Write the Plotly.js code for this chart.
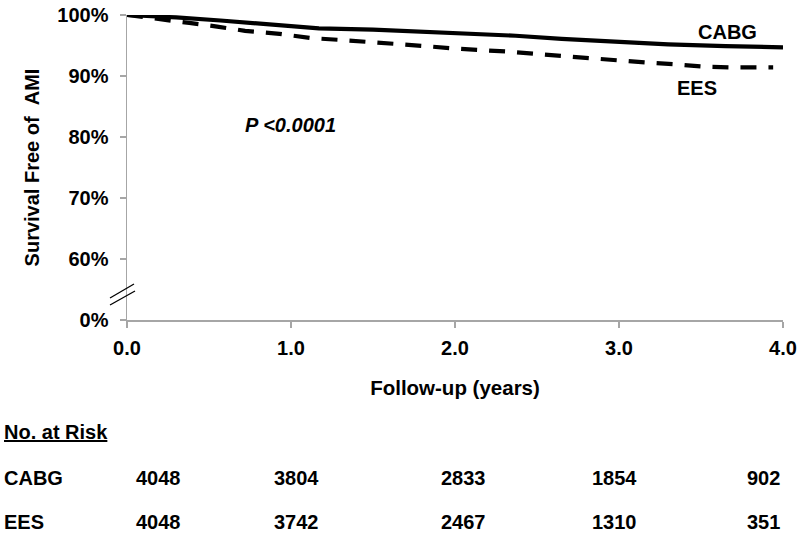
<!DOCTYPE html>
<html>
<head>
<meta charset="utf-8">
<script src="https://cdn.plot.ly/plotly-3.0.1.min.js"></script>
<style>html,body{margin:0;padding:0;background:#fff;}#chart{width:800px;height:534px;}</style>
</head>
<body>
<div id="chart"></div>
<script>
// Data
const cabgYears = [0, 0.15, 0.3, 0.57, 1.0, 1.17, 1.5, 1.78, 2.1, 2.37, 2.65, 2.96, 3.3, 3.65, 4.0];
const cabgSurv  = [100, 99.85, 99.6, 99.1, 98.1, 97.8, 97.6, 97.3, 96.9, 96.6, 96.1, 95.6, 95.2, 94.9, 94.7];
const eesYears = [0, 0.1, 0.22, 0.38, 0.55, 0.72, 0.93, 1.13, 1.31, 1.48, 1.65, 1.82, 2.0, 2.17, 2.32, 2.5, 2.68, 2.87, 3.0, 3.17, 3.35, 3.54, 3.7, 3.94];
const eesSurv  = [100, 99.7, 99.2, 98.7, 98.1, 97.4, 96.9, 96.2, 95.9, 95.6, 95.2, 94.9, 94.5, 94.3, 94.0, 93.6, 93.2, 92.8, 92.5, 92.2, 91.9, 91.5, 91.4, 91.4];

const xTickVals = [0, 1, 2, 3, 4];
const xTickText = ["0.0", "1.0", "2.0", "3.0", "4.0"];
const yTickVals = [50, 60, 70, 80, 90, 100];
const yTickText = ["0%", "60%", "70%", "80%", "90%", "100%"];

const riskGroups = ["CABG", "EES"];
const riskCABG = ["4048", "3804", "2833", "1854", "902"];
const riskEES  = ["4048", "3742", "2467", "1310", "351"];

// Layout geometry (pixels)
const W = 800, H = 534;
const M = {l: 127, r: 17, t: 15, b: 214};
const pw = W - M.l - M.r, ph = H - M.t - M.b;
const px2x = p => (p - M.l) / pw;
const py2y = p => (H - M.b - p) / ph;
const riskColPx = [158, 296, 463, 614, 763];

const FONT = "Liberation Sans, Arial, sans-serif";
const tableFont = {family: FONT, size: 20, color: "#000", weight: "bold"};

const traces = [
  {x: cabgYears, y: cabgSurv, mode: "lines", name: "CABG",
   line: {color: "#000", width: 4.2}, cliponaxis: false, hoverinfo: "skip"},
  {x: eesYears, y: eesSurv, mode: "lines", name: "EES",
   line: {color: "#000", width: 4.2, dash: "16px,12px"}, cliponaxis: false, hoverinfo: "skip"}
];

function txt(px, py, text, font, xanchor) {
  return {xref: "paper", yref: "paper", x: px2x(px), y: py2y(py), text: text, showarrow: false,
          xanchor: xanchor || "center", yanchor: "middle", font: font};
}

const ann = [];
const bigFont = {family: FONT, size: 20, color: "#000", weight: "bold"};
ann.push(txt(727, 32, "CABG", bigFont));
ann.push(txt(697, 88, "EES", bigFont));
ann.push(txt(290, 125, "<i>P &lt;0.0001</i>", bigFont));
ann.push(txt(2, 432, "<u>No. at Risk</u>", tableFont, "left"));
const rows = [riskCABG, riskEES];
const rowPy = [478, 522];
rows.forEach((vals, r) => {
  ann.push(txt(2, rowPy[r], riskGroups[r], tableFont, "left"));
  vals.forEach((v, i) => ann.push(txt(riskColPx[i], rowPy[r], v, tableFont)));
});

const shapes = [
  {type: "line", xref: "paper", yref: "paper", x0: px2x(110), x1: px2x(135), y0: py2y(305), y1: py2y(291), line: {color: "#000", width: 1.3}},
  {type: "line", xref: "paper", yref: "paper", x0: px2x(110), x1: px2x(134), y0: py2y(298), y1: py2y(284), line: {color: "#000", width: 1.3}}
];

const layout = {
  width: W, height: H,
  margin: M,
  paper_bgcolor: "#fff", plot_bgcolor: "#fff",
  showlegend: false,
  font: {family: FONT, color: "#000"},
  xaxis: {
    range: [0, 4], tickvals: xTickVals, ticktext: xTickText,
    showgrid: false, zeroline: false, showline: true, linecolor: "#a6a6a6", linewidth: 1.5,
    ticks: "outside", ticklen: 6, tickcolor: "#a6a6a6", tickwidth: 1.5, ticklabelstandoff: 3,
    tickfont: {family: FONT, size: 20, color: "#000", weight: "bold"},
    title: {text: "Follow-up (years)", font: {family: FONT, size: 20.5, color: "#000", weight: "bold"}, standoff: 23},
    automargin: false, fixedrange: true
  },
  yaxis: {
    range: [50, 100], tickvals: yTickVals, ticktext: yTickText,
    showgrid: false, zeroline: false, showline: true, linecolor: "#a6a6a6", linewidth: 1.5,
    ticks: "outside", ticklen: 6, tickcolor: "#a6a6a6", tickwidth: 1.5, ticklabelstandoff: 7,
    tickfont: {family: FONT, size: 20, color: "#000", weight: "bold"},
    title: {text: "Survival Free of\u00a0\u00a0AMI", font: {family: FONT, size: 20, color: "#000", weight: "bold"}, standoff: 12},
    automargin: false, fixedrange: true
  },
  annotations: ann,
  shapes: shapes
};

Plotly.newPlot("chart", traces, layout, {displayModeBar: false, staticPlot: true});
</script>
</body>
</html>
